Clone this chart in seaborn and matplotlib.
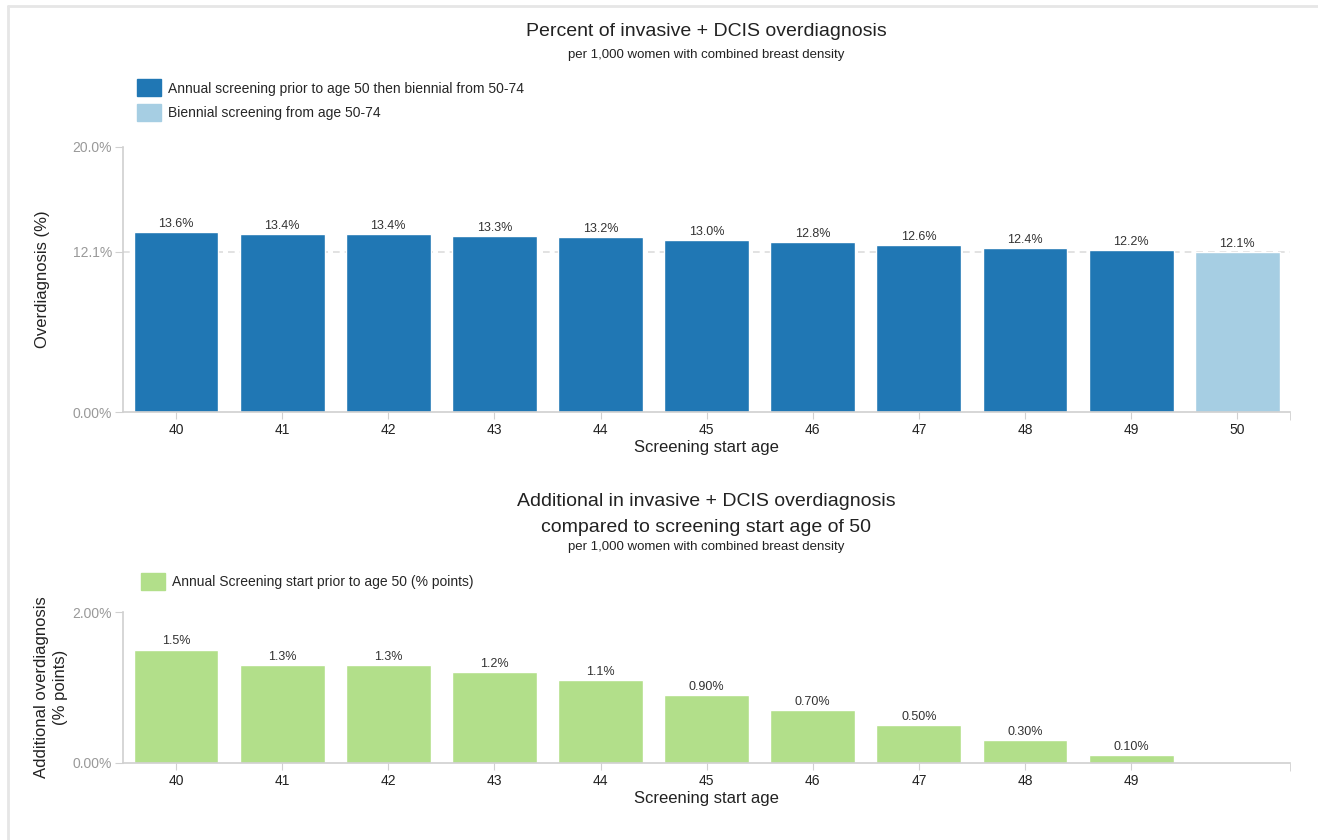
import matplotlib
matplotlib.use('Agg')
import matplotlib.pyplot as plt
import matplotlib.patches as mpatches
from matplotlib.lines import Line2D
import pandas as pd
import seaborn as sns

# Data
ages = ["40", "41", "42", "43", "44", "45", "46", "47", "48", "49", "50"]
overdiag = [13.6, 13.4, 13.4, 13.3, 13.2, 13.0, 12.8, 12.6, 12.4, 12.2, 12.1]
overdiag_labels = ["13.6%", "13.4%", "13.4%", "13.3%", "13.2%", "13.0%",
                   "12.8%", "12.6%", "12.4%", "12.2%", "12.1%"]
strategy = ["Annual screening prior to age 50 then biennial from 50-74"] * 10 + \
           ["Biennial screening from age 50-74"]

add_ages = ["40", "41", "42", "43", "44", "45", "46", "47", "48", "49"]
additional = [1.5, 1.3, 1.3, 1.2, 1.1, 0.9, 0.7, 0.5, 0.3, 0.1]
additional_labels = ["1.5%", "1.3%", "1.3%", "1.2%", "1.1%", "0.90%",
                     "0.70%", "0.50%", "0.30%", "0.10%"]
add_series = "Annual Screening start prior to age 50 (% points)"

top_yticks = [0, 12.1, 20]
top_yticklabels = ["0.00%", "12.1%", "20.0%"]
bot_yticks = [0, 2]
bot_yticklabels = ["0.00%", "2.00%"]

dark_blue = "#2077b4"
light_blue = "#a6cee3"
green = "#b2df8a"
axis_grey = "#d0d0d0"
tick_grey = "#999999"

sns.set_style("white")
plt.rcParams['font.family'] = ['Liberation Sans', 'DejaVu Sans']

df_top = pd.DataFrame({"age": ages, "value": overdiag, "strategy": strategy})
df_bot = pd.DataFrame({"age": add_ages, "value": additional, "series": add_series})

fig = plt.figure(figsize=(13.18, 8.4), dpi=100)
ax1 = fig.add_axes([0.0933, 0.5095, 0.8857, 0.3155])
ax2 = fig.add_axes([0.0933, 0.0917, 0.8857, 0.1797])

# light frame lines (top and left) like the page border
fig.add_artist(Line2D([0.006, 1.0], [0.993, 0.993], transform=fig.transFigure,
                      color="#e6e6e6", linewidth=2))
fig.add_artist(Line2D([0.006, 0.006], [0.0, 0.993], transform=fig.transFigure,
                      color="#e6e6e6", linewidth=2))

# Top chart
sns.barplot(data=df_top, x="age", y="value", hue="strategy", order=ages,
            palette=[dark_blue, light_blue], dodge=False, width=0.8,
            ax=ax1, legend=False, saturation=1)
ax1.axhline(12.1, color="#dddddd", linestyle=(0, (4, 3)), linewidth=1.2, zorder=0)
for i, (v, lab) in enumerate(zip(overdiag, overdiag_labels)):
    ax1.text(i, v + 0.15, lab, ha="center", va="bottom", fontsize=9, color="#333333")
ax1.set_ylim(0, 20)
ax1.set_xlim(-0.5, 10.5)
ax1.set_yticks(top_yticks)
ax1.set_yticklabels(top_yticklabels)
ax1.set_ylabel("Overdiagnosis (%)", fontsize=12, color="#222222", labelpad=16)
ax1.set_xlabel("Screening start age", fontsize=12, color="#222222", labelpad=2)

# Bottom chart
sns.barplot(data=df_bot, x="age", y="value", order=add_ages, color=green,
            width=0.8, ax=ax2, saturation=1)
for i, (v, lab) in enumerate(zip(additional, additional_labels)):
    ax2.text(i, v + 0.03, lab, ha="center", va="bottom", fontsize=9, color="#333333")
ax2.set_ylim(0, 2)
ax2.set_xlim(-0.5, 10.5)
ax2.set_yticks(bot_yticks)
ax2.set_yticklabels(bot_yticklabels)
ax2.set_ylabel("Additional overdiagnosis\n(% points)", fontsize=12, color="#222222",
               labelpad=3, linespacing=1.35)
ax2.set_xlabel("Screening start age", fontsize=12, color="#222222", labelpad=2)

for ax in (ax1, ax2):
    sns.despine(ax=ax, top=True, right=True)
    for s in ("left", "bottom"):
        ax.spines[s].set_color(axis_grey)
        ax.spines[s].set_linewidth(1.2)
    ax.tick_params(axis="y", left=True, length=6, color=axis_grey, labelsize=10,
                   labelcolor=tick_grey, pad=2)
    ax.tick_params(axis="x", bottom=True, length=5, color=axis_grey, labelsize=10,
                   labelcolor="#222222", pad=3)
    ax.set_xticks([10.5], minor=True)
    ax.tick_params(axis="x", which="minor", bottom=True, length=6, color=axis_grey)

# Titles
fig.text(0.536, 0.962, "Percent of invasive + DCIS overdiagnosis", ha="center",
         va="center", fontsize=14, color="#222222")
fig.text(0.536, 0.934, "per 1,000 women with combined breast density", ha="center",
         va="center", fontsize=9.5, color="#222222")
fig.text(0.536, 0.403, "Additional in invasive + DCIS overdiagnosis", ha="center",
         va="center", fontsize=14, color="#222222")
fig.text(0.536, 0.372, "compared to screening start age of 50", ha="center",
         va="center", fontsize=14, color="#222222")
fig.text(0.536, 0.349, "per 1,000 women with combined breast density", ha="center",
         va="center", fontsize=9.5, color="#222222")

# Legends
top_handles = [mpatches.Patch(color=dark_blue, label=strategy[0]),
               mpatches.Patch(color=light_blue, label=strategy[-1])]
fig.legend(handles=top_handles, loc="upper left", bbox_to_anchor=(0.1, 0.912),
           frameon=False, fontsize=10, handlelength=1.7, handleheight=1.5,
           handletextpad=0.5, labelspacing=0.55, borderaxespad=0)
fig.legend(handles=[mpatches.Patch(color=green, label=add_series)], loc="upper left",
           bbox_to_anchor=(0.103, 0.324), frameon=False, fontsize=10,
           handlelength=1.7, handleheight=1.5, handletextpad=0.5, borderaxespad=0)

fig.savefig("out.png", dpi=100)
